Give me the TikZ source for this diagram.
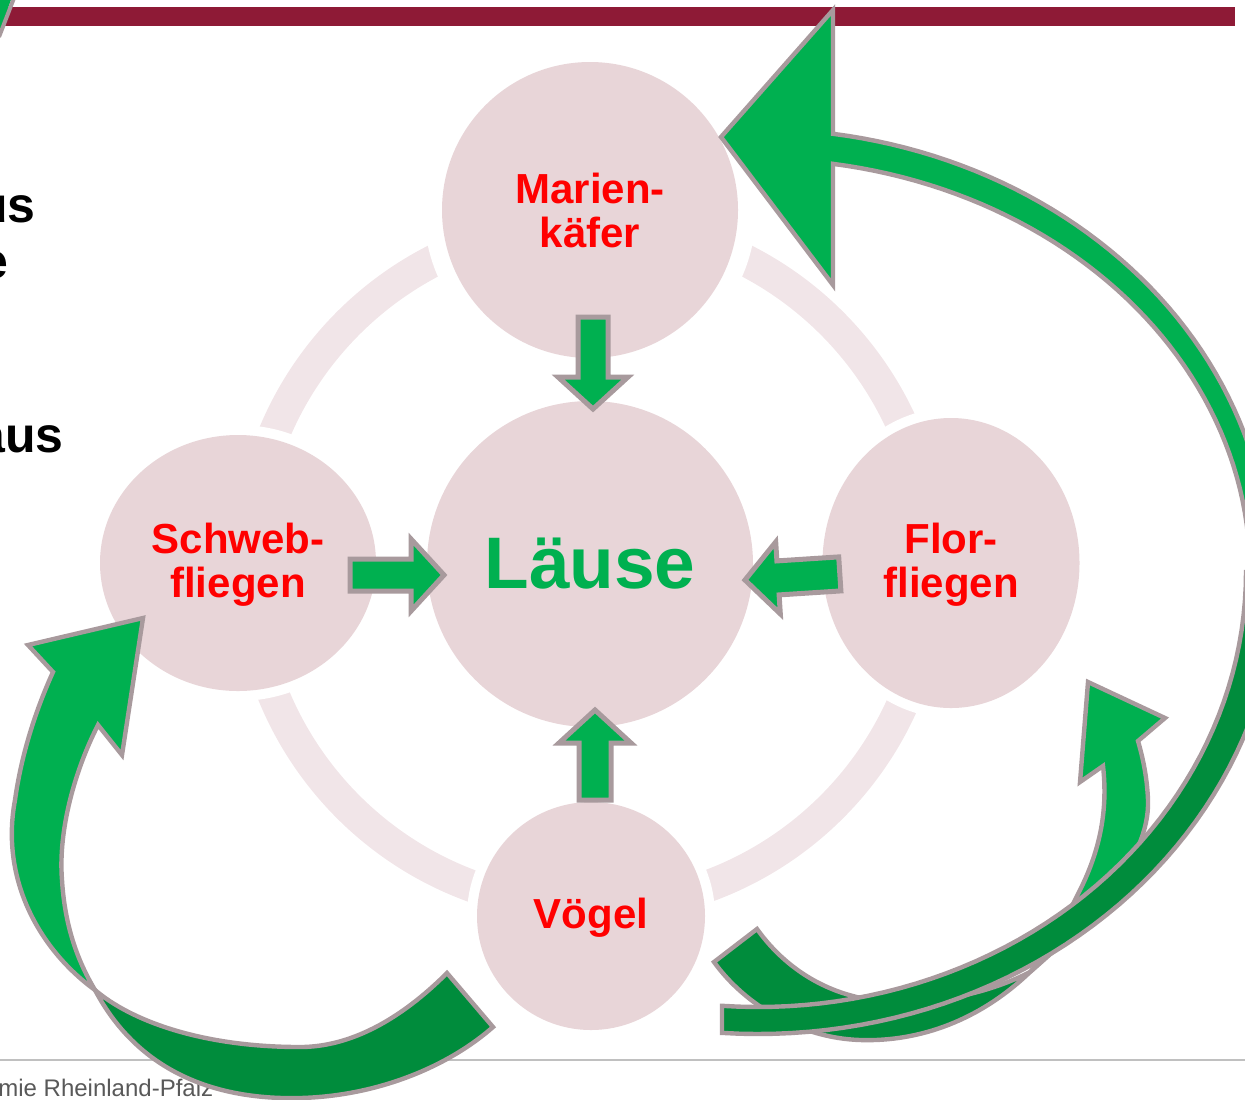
\documentclass[tikz,border=0pt]{standalone}
\usepackage{fontspec}
\setmainfont{Liberation Sans}
\usetikzlibrary{shapes.geometric}
\definecolor{barc}{RGB}{142,26,54}
\definecolor{ringc}{RGB}{241,229,232}
\definecolor{circc}{RGB}{232,213,216}
\definecolor{lgreen}{RGB}{0,176,80}
\definecolor{dgreen}{RGB}{0,140,60}
\definecolor{edgec}{RGB}{168,154,157}
\definecolor{footc}{RGB}{89,89,89}
\definecolor{linec}{RGB}{192,192,192}
\begin{document}
\begin{tikzpicture}[x=0.5pt,y=-0.5pt,
  bubble/.style={fill=circc, inner sep=0pt},
  lbl/.style={text=red, font=\fontsize{21}{22}\selectfont\bfseries, align=center},
  blk/.style={anchor=base east, inner sep=0pt, font=\fontsize{25}{30}\selectfont\bfseries},
  garrow/.style={fill=lgreen, draw=edgec, line width=2.2pt, line join=miter},
  darrow/.style={fill=dgreen, draw=edgec, line width=2.2pt, line join=miter},
  sarrow/.style={fill=lgreen, draw=edgec, line width=2.5pt, line join=miter},
]
\useasboundingbox (0,0) rectangle (1245,1099);
\clip (0,0) rectangle (1245,1099);
% header bar and footer
\fill[barc] (0,7) rectangle (1235,26);
\draw[linec, line width=1pt] (0,1060) -- (1245,1060);
\node[anchor=base west, inner sep=0pt, text=footc, font=\fontsize{12}{14}\selectfont] (ft) at (-2,1096) {mie Rheinland-Pfalz};
% cut-off left text
\node[blk] (t1) at (36,222) {us};
\node[blk] (t2) at (9,278) {e};
\node[blk] (t3) at (64,452) {aus};
% corner fragment
\fill[lgreen] (0,0) -- (11,0) -- (0,30) -- cycle;
\draw[edgec, line width=2pt] (14,-2) -- (-1,37);
% ring
\draw[ringc, line width=16pt] (590,565) circle[radius=171pt];
% halos
\fill[white] (590,210) circle[radius=83pt];
\fill[white] (238,563) ellipse[x radius=74pt, y radius=69pt];
\fill[white] (951,563) ellipse[x radius=69pt, y radius=77.5pt];
\fill[white] (591,916) circle[radius=62pt];
% bubbles
\node[bubble, circle, minimum size=148pt] (mk) at (590,210) {};
\node[bubble, circle, minimum size=163pt] (la) at (590,564) {};
\node[bubble, ellipse, minimum width=138pt, minimum height=128pt] (sf) at (238,563) {};
\node[bubble, ellipse, minimum width=128.5pt, minimum height=145pt] (ff) at (951,563) {};
\node[bubble, circle, minimum size=114pt] (vg) at (591,916) {};
% labels
\node[lbl] (mkt) at (mk) {Marien-\\käfer};
\node[lbl] (sft) at ([yshift=-1pt]sf.center) {Schweb-\\fliegen};
\node[lbl] (fft) at ([yshift=-1pt]ff.center) {Flor-\\fliegen};
\node[lbl] (vgt) at ([yshift=-1pt]vg.center) {Vögel};
\node[text=lgreen, font=\fontsize{36.5}{40}\selectfont\bfseries] (lat) at (la) {Läuse};
% straight arrows
\draw[sarrow] (578,317) -- (608,317) -- (608,377) -- (628,377) -- (593,409) -- (558,377) -- (578,377) -- cycle;
\draw[sarrow] (579,800) -- (611,800) -- (611,743) -- (631,743) -- (595,710) -- (559,743) -- (579,743) -- cycle;
\draw[sarrow] (350,559) -- (411,559) -- (411,539) -- (444,575) -- (411,611) -- (411,591) -- (350,591) -- cycle;
\draw[sarrow] (745,580) -- (775.7,542) -- (776.9,560.9) -- (838.7,556.9) -- (840.9,590.9) -- (779.1,594.9) -- (780.3,613.8) -- cycle;
% left curved arrow
\draw[garrow] (95,990) .. controls (40,950) and (0,880) .. (15,800) .. controls (22,750) and (38,705) .. (53,672) -- (28,645) -- (143,618) -- (122,755) -- (98,725) .. controls (75,770) and (58,830) .. (62,880) .. controls (65,930) and (80,965) .. (95,990) -- cycle;
\draw[darrow] (95,990) .. controls (140,1075) and (220,1100) .. (300,1098) .. controls (380,1096) and (450,1065) .. (493,1027) -- (447,973) .. controls (400,1020) and (350,1047) .. (300,1047) .. controls (200,1047) and (130,1020) .. (95,990) -- cycle;
% right small curved arrow
\draw[garrow] (1030,972) .. controls (1090,920) and (1150,860) .. (1148,800) .. controls (1147,775) and (1142,755) .. (1138,741) -- (1165,718) -- (1088,682) -- (1080,782) -- (1103,766) .. controls (1108,810) and (1100,850) .. (1080,890) .. controls (1065,920) and (1050,950) .. (1030,972) -- cycle;
\draw[darrow] (1030,972) .. controls (980,1020) and (920,1042) .. (860,1040) .. controls (800,1038) and (745,1005) .. (714,962) -- (757,929) .. controls (790,975) and (840,1002) .. (900,1002) .. controls (950,1002) and (995,990) .. (1030,972) -- cycle;
% big curved arrow
\draw[darrow] plot[domain=0:93.97, samples=50] ({758+520*cos(\x)},{572+462*sin(\x)}) -- plot[domain=94.23:0, samples=50] ({758+488*cos(\x)},{572+435*sin(\x)}) -- cycle;
\draw[garrow] plot[domain=0:81.58, samples=50] ({758+512*cos(\x)},{572-443*sin(\x)}) -- (833,10) -- (721,137) -- (833,285) -- plot[domain=81.23:0, samples=50] ({758+492*cos(\x)},{572-413*sin(\x)}) -- cycle;
\end{tikzpicture}
\end{document}
